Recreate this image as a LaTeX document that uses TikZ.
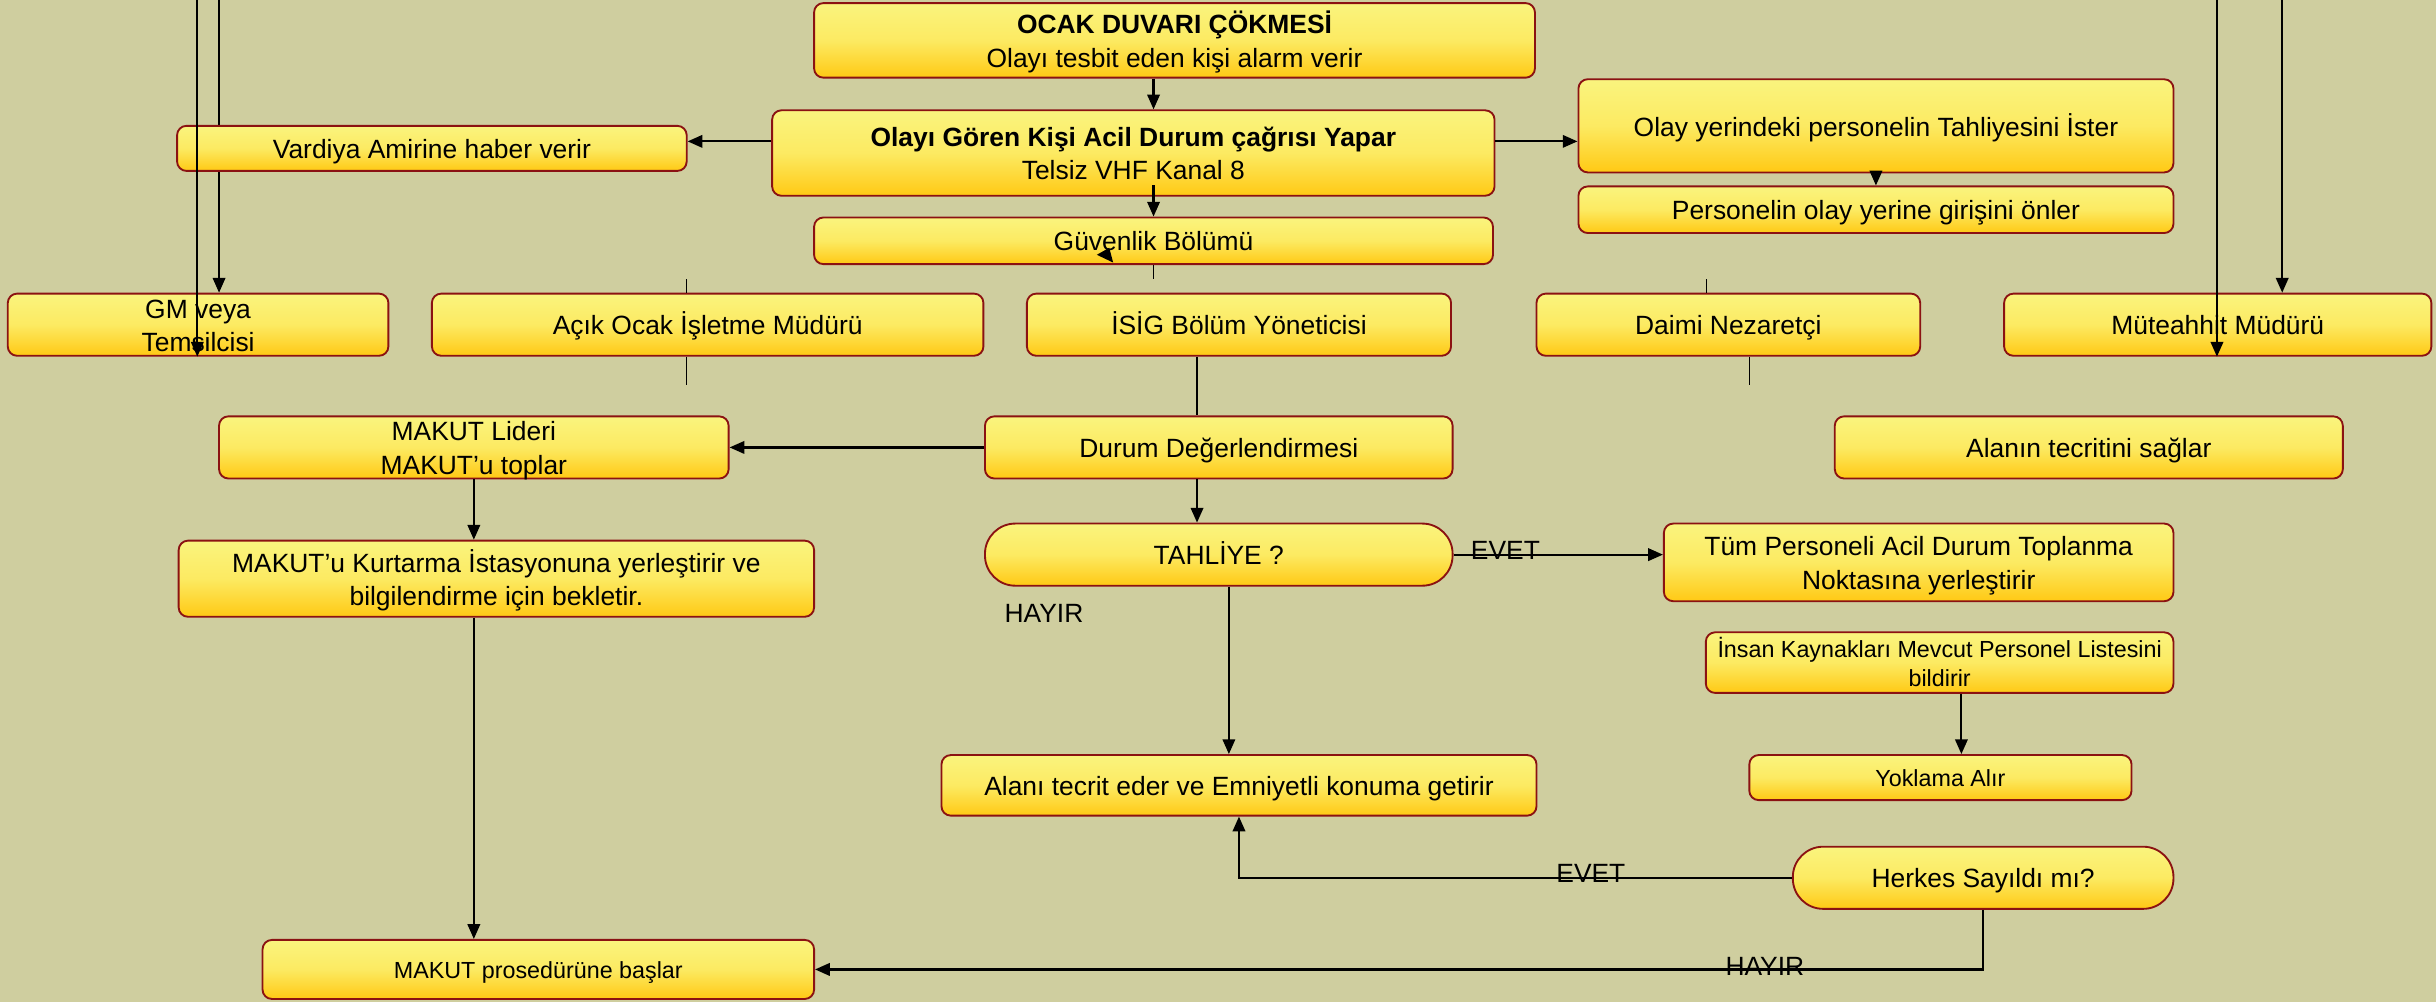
\documentclass[tikz,border=0pt]{standalone}
\usepackage{fontspec}
\setmainfont{Liberation Sans}
\usetikzlibrary{arrows.meta}
\definecolor{bgcol}{HTML}{CFCE9F}
\definecolor{boxtop}{HTML}{FAF47E}
\definecolor{boxmid}{HTML}{FCEA62}
\definecolor{boxbot}{HTML}{FFC914}
\definecolor{boxline}{HTML}{8B1212}
\pgfdeclarelayer{back}
\pgfsetlayers{back,main}
% text lines with fixed metrics, so every line sits on its baseline like the reference;
% the declared size is trimmed equally above and below so that boxes never grow
\newcommand\boxtxt[1]{\setbox\strutbox\hbox{\vrule height 17.3pt depth 4.2pt width 0pt}%
  \raisebox{0pt}[\dimexpr\height-4pt\relax][\dimexpr\depth-4pt\relax]{\begin{tabular}{@{}c@{}}#1\end{tabular}}}
\newcommand\boxtxtsmall[1]{\setbox\strutbox\hbox{\vrule height 15.1pt depth 3.4pt width 0pt}%
  \raisebox{0pt}[\dimexpr\height-4pt\relax][\dimexpr\depth-4pt\relax]{\begin{tabular}{@{}c@{}}#1\end{tabular}}}
\tikzset{
  box/.style={draw=boxline, line width=1.2pt, rounded corners=6pt,
    top color=boxtop, bottom color=boxbot, middle color=boxmid,
    inner sep=0pt, font=\fontsize{17}{21.5}\selectfont},
  smalltext/.style={font=\fontsize{15}{18.5}\selectfont},
  pill/.style={box, rounded corners=19.5pt},
  arr/.style={line width=1.4pt, -{Triangle[length=9.5pt,width=8pt]}},
  stub/.style={line width=0.9pt},
  lbl/.style={font=\fontsize{17}{20}\selectfont, inner sep=0pt}
}
\begin{document}
\begin{tikzpicture}[x=1pt,y=-1pt]
\begin{pgfonlayer}{back}
\fill[bgcol] (0,0) rectangle (1568,645);
\end{pgfonlayer}
\useasboundingbox (0,0) rectangle (1568,645);

% nodes
\node[box, minimum width=464pt, minimum height=48pt] (ocak) at (756,26)
  {\boxtxt{\textbf{OCAK DUVARI ÇÖKMESİ}\\Olayı tesbit eden kişi alarm verir}};
\node[box, minimum width=465pt, minimum height=55pt] (olay) at (729.5,98.5)
  {\boxtxt{\textbf{Olayı Gören Kişi Acil Durum çağrısı Yapar}\\Telsiz VHF Kanal 8}};
\node[box, minimum width=437pt, minimum height=30pt] (guv) at (742.5,155) {\boxtxt{Güvenlik Bölümü}};
\node[box, minimum width=328pt, minimum height=29pt] (vard) at (278,95.5) {\boxtxt{Vardiya Amirine haber verir}};
\node[box, minimum width=383pt, minimum height=60pt] (tahl) at (1207.5,81) {\boxtxt{Olay yerindeki personelin Tahliyesini İster}};
\node[box, minimum width=383pt, minimum height=30pt] (pers) at (1207.5,135) {\boxtxt{Personelin olay yerine girişini önler}};

\node[box, minimum width=245pt, minimum height=40pt] (gm) at (127.5,209) {\boxtxt{GM veya\\Temsilcisi}};
\node[box, minimum width=355pt, minimum height=40pt] (acik) at (455.5,209) {\boxtxt{Açık Ocak İşletme Müdürü}};
\node[box, minimum width=273pt, minimum height=40pt] (isig) at (797.5,209) {\boxtxt{İSİG Bölüm Yöneticisi}};
\node[box, minimum width=247pt, minimum height=40pt] (daimi) at (1112.5,209) {\boxtxt{Daimi Nezaretçi}};
\node[box, minimum width=275pt, minimum height=40pt] (mut) at (1427.5,209) {\boxtxt{Müteahhit Müdürü}};

\node[box, minimum width=328pt, minimum height=40pt] (lider) at (305,288) {\boxtxt{MAKUT Lideri\\MAKUT’u toplar}};
\node[box, minimum width=409pt, minimum height=49pt] (kurt) at (319.5,372.5)
  {\boxtxt{MAKUT’u Kurtarma İstasyonuna yerleştirir ve\\bilgilendirme için bekletir.}};
\node[box, smalltext, minimum width=355pt, minimum height=38pt] (proc) at (346.5,624) {\boxtxtsmall{MAKUT prosedürüne başlar}};

\node[box, minimum width=301pt, minimum height=40pt] (durum) at (784.5,288) {\boxtxt{Durum Değerlendirmesi}};
\node[pill, minimum width=301pt, minimum height=40pt] (tahliye) at (784.5,357) {\boxtxt{TAHLİYE ?}};
\node[box, minimum width=383pt, minimum height=39pt] (alani) at (797.5,505.5) {\boxtxt{Alanı tecrit eder ve Emniyetli konuma getirir}};

\node[box, minimum width=327pt, minimum height=40pt] (tecrit) at (1344.5,288) {\boxtxt{Alanın tecritini sağlar}};
\node[box, minimum width=328pt, minimum height=50pt] (tum) at (1235,362)
  {\boxtxt{Tüm Personeli Acil Durum Toplanma\\Noktasına yerleştirir}};
\node[box, smalltext, minimum width=301pt, minimum height=39pt] (insan) at (1248.5,426.5)
  {\boxtxtsmall{İnsan Kaynakları Mevcut Personel Listesini\\bildirir}};
\node[box, smalltext, minimum width=246pt, minimum height=29pt] (yok) at (1249,500.5) {\boxtxtsmall{Yoklama Alır}};
\node[pill, minimum width=245pt, minimum height=40pt] (herkes) at (1276.5,565) {\boxtxt{Herkes Sayıldı mı?}};

% top-edge coordinates
\coordinate (tl1) at (127,0);
\coordinate (tl2) at (141,0);
\coordinate (tr1) at (1427,0);
\coordinate (tr2) at (1469,0);

% line hidden behind the Vardiya box
\begin{pgfonlayer}{back}
\draw[arr] (tl2) -- (gm.north -| tl2);
\end{pgfonlayer}

% connectors
\draw[arr] (tl1) -- (gm.south -| tl1);
\draw[arr] (tr1) -- (mut.south -| tr1);
\draw[arr] (tr2) -- (mut.north -| tr2);

\draw[arr] (ocak.south -| guv.north) -- (olay.north -| guv.north);
\draw[arr] ([yshift=20pt]guv.north) -- (guv.north);
\draw[arr] (olay.west |- 0,91) -- (vard.east |- 0,91);
\draw[arr] (olay.east |- 0,91) -- (tahl.west |- 0,91);
\draw[arr] (tahl.south) -- (pers.north);

% short stubs
\draw[stub] (guv.south) -- ++(0,9);
\draw[stub] (acik.north -| 442,0) -- ++(0,-9);
\draw[stub] (acik.south -| 442,0) -- ++(0,18);
\draw[stub] (daimi.north -| 1098.5,0) -- ++(0,-9);
\draw[stub] (daimi.south -| 1126,0) -- ++(0,18);

% stray arrowhead inside Güvenlik Bölümü
\fill (706,164) -- (714,159.5) -- (716.5,169) -- cycle;

\draw[stub, line width=1.1pt] (isig.south -| 770.5,0) -- (durum.north -| 770.5,0);
\draw[arr] (durum.west) -- (lider.east);
\draw[arr] (lider.south) -- (kurt.north -| lider.south);
\draw[arr] (kurt.south -| lider.south) -- (proc.north -| lider.south);
\draw[arr] (durum.south -| 770.5,0) -- (tahliye.north -| 770.5,0);

\draw[arr] (tahliye.east |- 0,357) -- (tum.west |- 0,357);
\node[lbl] (evet1) at (969,354) {EVET};
\node[lbl] (hayir1) at (672,395) {HAYIR};
\draw[arr] (tahliye.south -| 791,0) -- (alani.north -| 791,0);

\draw[arr] (herkes.west) -| (alani.south);
\node[lbl] (evet2) at (1024,562) {EVET};
\draw[arr] (herkes.south) |- (proc.east);
\node[lbl] (hayir2) at (1136,622) {HAYIR};

\draw[arr] (insan.south -| 1262.5,0) -- (yok.north -| 1262.5,0);
\end{tikzpicture}
\end{document}
